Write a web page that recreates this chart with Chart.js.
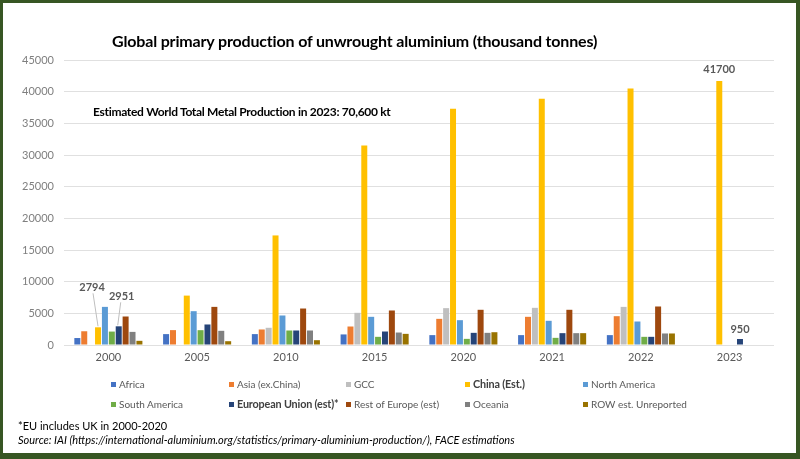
<!DOCTYPE html>
<html>
<head>
<meta charset="utf-8">
<script src="https://cdn.jsdelivr.net/npm/chart.js@4"></script>
<style>
  body { margin: 0; }
  #frame { position: relative; width: 800px; height: 459px; background: #375623; overflow: hidden; font-family: Lato, "Open Sans", sans-serif; }
  #inner { position: absolute; left: 3px; top: 3px; right: 4px; bottom: 6px; background: #fff; }
  #wrap { position: absolute; left: 0; top: 0; width: 800px; height: 459px; }
  .txt { position: absolute; white-space: nowrap; }
  #title { left: 112px; top: 31px; font-size: 16px; letter-spacing: -0.16px; font-weight: bold; color: #000; }
  #note { left: 93px; top: 104px; font-size: 12px; letter-spacing: -0.3px; font-weight: bold; color: #000; }
  #foot1 { left: 18px; top: 419px; font-size: 11px; color: #000; }
  #foot2 { left: 18px; top: 433px; font-size: 11px; font-style: italic; color: #000; }
  .leg { position: absolute; white-space: nowrap; font-size: 10px; color: #595959; line-height: 12px; }
  .leg i { display: inline-block; width: 5px; height: 5px; margin-right: 3px; vertical-align: 1px; }
  .leg.b { font-size: 10.8px; letter-spacing: -0.15px; font-weight: bold; color: #404040; }
</style>
</head>
<body>
<div id="frame">
  <div id="inner"></div>
  <div id="wrap"><canvas id="chart"></canvas></div>
  <div class="txt" id="title">Global primary production of unwrought aluminium (thousand tonnes)</div>
  <div class="txt" id="note">Estimated World Total Metal Production in 2023: 70,600 kt</div>
  <div id="legend"></div>
  <div class="txt" id="foot1">*EU includes UK in 2000-2020</div>
  <div class="txt" id="foot2">Source: IAI (https://international-aluminium.org/statistics/primary-aluminium-production/), FACE estimations</div>
</div>
<script>
const years = ['2000', '2005', '2010', '2015', '2020', '2021', '2022', '2023'];

const africa     = [1100, 1720, 1720, 1670, 1560, 1560, 1560, null];
const asia       = [2170, 2350, 2450, 2920, 4130, 4450, 4550, null];
const gcc        = [null, null, 2720, 5080, 5820, 5870, 6020, null];
const china      = [2794, 7800, 17300, 31500, 37300, 38900, 40500, 41700];
const northAm    = [6020, 5340, 4660, 4450, 3920, 3820, 3710, null];
const southAm    = [2120, 2340, 2290, 1290, 970, 1130, 1290, null];
const eu         = [2951, 3240, 2290, 2130, 1920, 1870, 1290, 950];
const restEurope = [4500, 6020, 5760, 5450, 5560, 5560, 6080, null];
const oceania    = [2070, 2240, 2290, 1970, 1920, 1870, 1820, null];
const row        = [660, 600, 760, 1760, 2020, 1870, 1820, null];

const yTicks = [0, 5000, 10000, 15000, 20000, 25000, 30000, 35000, 40000, 45000];

const series = [
  { label: 'Africa', data: africa, color: '#4472C4' },
  { label: 'Asia (ex.China)', data: asia, color: '#ED7D31' },
  { label: 'GCC', data: gcc, color: '#BFBFBF' },
  { label: 'China (Est.)', data: china, color: '#FFC000', bold: true },
  { label: 'North America', data: northAm, color: '#5B9BD5' },
  { label: 'South America', data: southAm, color: '#70AD47' },
  { label: 'European Union (est)*', data: eu, color: '#264478', bold: true },
  { label: 'Rest of Europe (est)', data: restEurope, color: '#9E480E' },
  { label: 'Oceania', data: oceania, color: '#808080' },
  { label: 'ROW est. Unreported', data: row, color: '#997300' }
];

// legend laid out in a 5 x 2 grid like the original
const legendPos = [
  [111, 378], [229, 378], [346, 378], [465, 378], [583, 378],
  [111, 398], [229, 398], [346, 398], [465, 398], [583, 398]
];
const legend = document.getElementById('legend');
series.forEach((s, i) => {
  const d = document.createElement('div');
  d.className = 'leg' + (s.bold ? ' b' : '');
  d.style.left = legendPos[i][0] + 'px';
  d.style.top = legendPos[i][1] + 'px';
  d.innerHTML = '<i style="background:' + s.color + '"></i>' + s.label;
  legend.appendChild(d);
});

// value labels with leader lines
const labelPlugin = {
  id: 'valueLabels',
  afterDatasetsDraw(chart) {
    const ctx = chart.ctx;
    const items = [
      { ds: 3, i: 0, text: '2794', dx: -6, dy: -40, lineFrom: [-5, -34], lineTo: [0, -1] },
      { ds: 6, i: 0, text: '2951', dx: 3, dy: -30, lineFrom: [2, -24], lineTo: [-1, -1] },
      { ds: 3, i: 7, text: '41700', dx: 0, dy: -11 },
      { ds: 6, i: 7, text: '950', dx: 0, dy: -10 }
    ];
    ctx.save();
    ctx.font = 'bold 11px Lato, sans-serif';
    ctx.fillStyle = '#595959';
    ctx.textAlign = 'center';
    ctx.textBaseline = 'middle';
    items.forEach(it => {
      const bar = chart.getDatasetMeta(it.ds).data[it.i];
      if (it.lineFrom) {
        ctx.strokeStyle = '#BFBFBF';
        ctx.lineWidth = 1;
        ctx.beginPath();
        ctx.moveTo(bar.x + it.lineFrom[0], bar.y + it.lineFrom[1]);
        ctx.lineTo(bar.x + it.lineTo[0], bar.y + it.lineTo[1]);
        ctx.stroke();
      }
      ctx.fillText(it.text, bar.x + it.dx, bar.y + it.dy);
    });
    ctx.restore();
  }
};

new Chart(document.getElementById('chart'), {
  type: 'bar',
  data: {
    labels: years,
    datasets: series.map(s => ({
      label: s.label,
      data: s.data,
      backgroundColor: s.color,
      categoryPercentage: 0.777,
      barPercentage: 0.87
    }))
  },
  options: {
    responsive: true,
    maintainAspectRatio: false,
    animation: false,
    layout: { padding: { left: 0, top: 60, right: 26, bottom: 84 } },
    scales: {
      x: {
        grid: { display: false, drawTicks: false },
        border: { display: false },
        ticks: { color: '#595959', font: { family: 'Lato', size: 11 }, padding: 6 },
        afterFit(scale) { scale.height = 30; }
      },
      y: {
        min: 0,
        max: 45000,
        afterBuildTicks(scale) { scale.ticks = yTicks.map(v => ({ value: v })); },
        afterFit(scale) { scale.width = 64; },
        grid: { color: '#E0E0E0', drawTicks: false },
        border: { display: false },
        ticks: {
          color: '#7F7F7F',
          font: { family: 'Lato', size: 11 },
          padding: 10,
          callback: v => String(v)
        }
      }
    },
    plugins: {
      legend: { display: false },
      tooltip: { enabled: false }
    }
  },
  plugins: [labelPlugin]
});
</script>
</body>
</html>
